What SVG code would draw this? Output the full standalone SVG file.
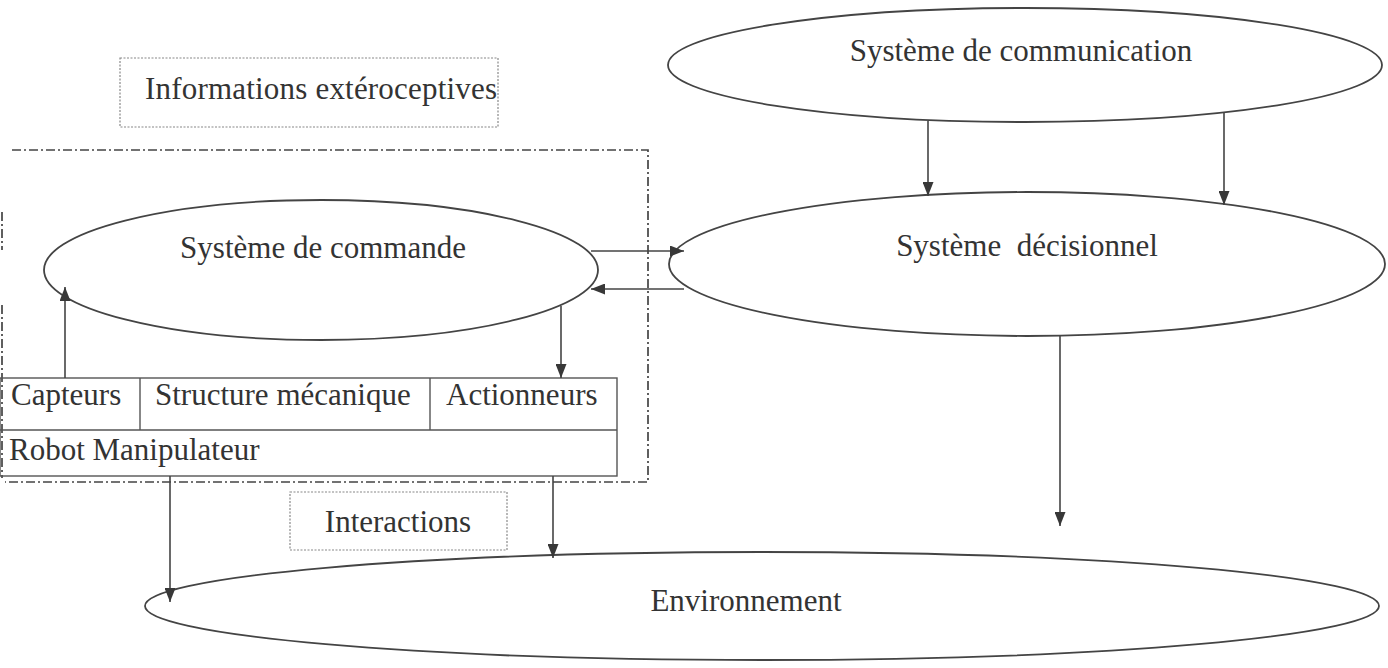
<svg xmlns="http://www.w3.org/2000/svg" width="1388" height="668" viewBox="0 0 1388 668">
<defs>
<marker id="ah" viewBox="0 0 14 11" refX="14" refY="5.5" markerWidth="14" markerHeight="11" markerUnits="userSpaceOnUse" orient="auto">
<path d="M0,0 L14,5.5 L0,11 Z" fill="#383838"/>
</marker>
</defs>
<style>
.t{font-family:"Liberation Serif","Times New Roman",serif;font-size:31px;fill:#333}
.e{fill:none;stroke:#444;stroke-width:1.8}
.b{fill:none;stroke:#555;stroke-width:1.4}
.dot{fill:none;stroke:#888;stroke-width:1.2;stroke-dasharray:2 1.5}
.dd{fill:none;stroke:#444;stroke-width:1.7;stroke-dasharray:9 3 2 3}
.c{fill:none;stroke:#444;stroke-width:1.6;marker-end:url(#ah)}
</style>
<rect width="1388" height="668" fill="#fff"/>
<g id="frontiere">
<path class="dd" d="M12,150 L648,150 L648,482 L5,482"/>
<path class="dd" d="M2,212 L2,250 M2,305 L2,478"/>
</g>
<g id="infos-exteroceptives">
<rect class="dot" x="120" y="58" width="378" height="69"/>
<text class="t" x="321" y="99" text-anchor="middle" textLength="352">Informations extéroceptives</text>
</g>
<g id="systeme-communication">
<ellipse class="e" cx="1025" cy="65" rx="357" ry="57"/>
<text class="t" x="1021" y="61" text-anchor="middle">Système de communication</text>
</g>
<g id="systeme-decisionnel">
<ellipse class="e" cx="1027" cy="264" rx="358" ry="72"/>
<text class="t" x="1027" y="256" text-anchor="middle" xml:space="preserve">Système  décisionnel</text>
</g>
<g id="systeme-commande">
<ellipse class="e" cx="321" cy="270" rx="277" ry="70"/>
<text class="t" x="323" y="258" text-anchor="middle">Système de commande</text>
</g>
<g id="robot-manipulateur">
<rect class="b" x="0" y="378" width="617" height="98"/>
<path class="b" d="M0,430 L617,430 M140,378 L140,430 M430,378 L430,430"/>
<text class="t" x="11" y="405">Capteurs</text>
<text class="t" x="155" y="405">Structure mécanique</text>
<text class="t" x="446" y="405">Actionneurs</text>
<text class="t" x="9" y="460">Robot Manipulateur</text>
</g>
<g id="interactions">
<rect class="dot" x="290" y="492" width="217" height="58"/>
<text class="t" x="398" y="532" text-anchor="middle">Interactions</text>
</g>
<g id="environnement">
<ellipse class="e" cx="762" cy="606" rx="617" ry="54"/>
<text class="t" x="746" y="611" text-anchor="middle">Environnement</text>
</g>
<g id="connecteurs">
<line class="c" x1="928" y1="121" x2="928" y2="196"/>
<line class="c" x1="1224" y1="113" x2="1224" y2="205"/>
<line class="c" x1="591" y1="251" x2="684" y2="251"/>
<line class="c" x1="684" y1="289" x2="591" y2="289"/>
<line class="c" x1="65" y1="378" x2="65" y2="287"/>
<line class="c" x1="561" y1="306" x2="561" y2="378"/>
<line class="c" x1="1060" y1="336" x2="1060" y2="526"/>
<line class="c" x1="170" y1="476" x2="170" y2="602"/>
<line class="c" x1="553" y1="476" x2="553" y2="558"/>
</g>
</svg>
